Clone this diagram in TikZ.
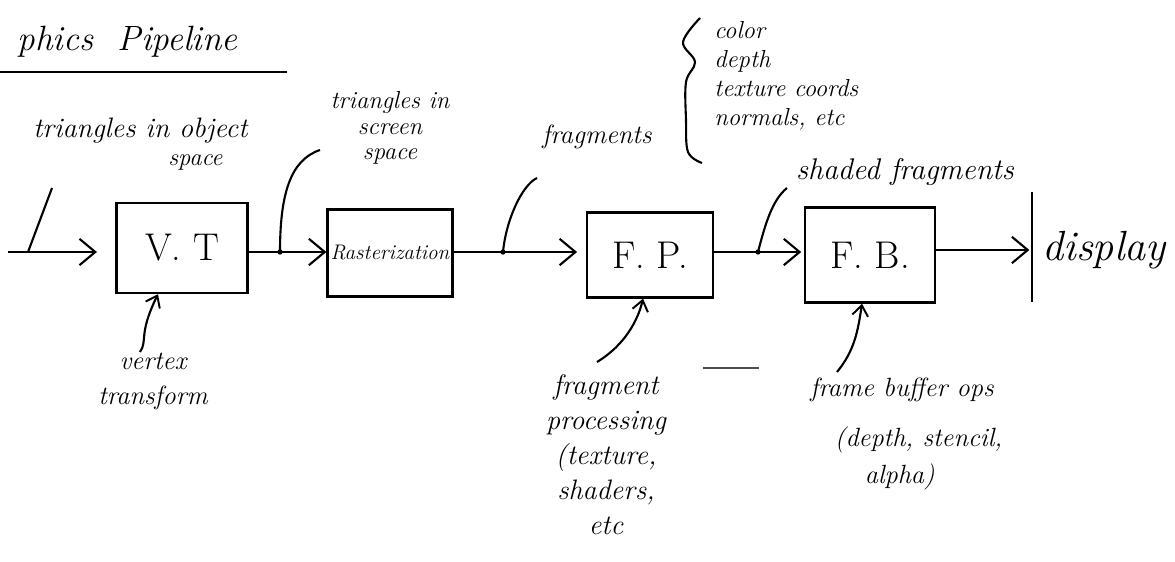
\documentclass[tikz,border=0pt]{standalone}
\usetikzlibrary{arrows.meta}
\begin{document}
\begin{tikzpicture}[x=0.02cm, y=-0.02cm,
  box/.style={draw, line width=1.3pt, inner sep=0pt},
  lbl/.style={font=\fontsize{15}{20}\selectfont\itshape, inner sep=0pt},
  wire/.style={line width=1.2pt},
  arr/.style={wire, -{Straight Barb[length=9pt,width=15pt,line width=1.2pt]}},
  uparr/.style={wire, -{Straight Barb[length=6pt,width=9pt,line width=1.1pt]}},
  dot/.style={circle, fill, inner sep=0pt, minimum size=3pt}
]
\useasboundingbox (0,0) rectangle (1175,561);

% title
\node[font=\fontsize{20}{24}\selectfont\itshape, anchor=base east, inner sep=0pt] (title) at (238,50) {phics\ \ Pipeline};
\coordinate (u0) at (0,72);
\coordinate (u1) at (287,72);
\draw[line width=1.1pt] (u0) -- (u1);

% boxes
\node[box, minimum width=2.62cm, minimum height=1.8cm] (vt) at (182,248) {\fontsize{22}{26}\selectfont V. T};
\node[box, minimum width=2.5cm, minimum height=1.74cm] (ras) at (390,253) {\fontsize{12}{14}\selectfont\itshape Rasterization};
\node[box, minimum width=2.52cm, minimum height=1.7cm] (fp) at (650,255) {\fontsize{22}{26}\selectfont F. P.};
\node[box, minimum width=2.6cm, minimum height=1.9cm] (fb) at (870,255) {\fontsize{22}{26}\selectfont F. B.};

% junctions
\coordinate (in) at (8,252);
\coordinate (j0) at (28,252);
\coordinate (t0) at (52,188);
\coordinate (d1) at (280,252);
\coordinate (d2) at (503,252);
\coordinate (d3) at (758,252);
\coordinate (bart) at (1032,192);
\coordinate (barb) at (1032,302);
\coordinate (barm) at (1032,250);

% main wires
\draw[arr, shorten >=10.5pt] (in) -- (in -| vt.west);
\draw[wire] (d1 -| vt.east) -- (d1);
\draw[arr] (d1) -- (d1 -| ras.west);
\draw[wire] (d2 -| ras.east) -- (d2);
\draw[arr, shorten >=5pt] (d2) -- (d2 -| fp.west);
\draw[wire] (d3 -| fp.east) -- (d3);
\draw[arr, shorten >=1.5pt] (d3) -- (d3 -| fb.west);
\draw[arr, shorten >=1.5pt] (barm -| fb.east) -- (barm);
\draw[line width=1.4pt] (bart) -- (barb);

\node[dot] (p1) at (d1) {};
\node[dot] (p2) at (d2) {};
\node[dot] (p3) at (d3) {};

% leaders to upper labels
\coordinate (l1) at (320,150);
\coordinate (l2) at (537,178);
\coordinate (l3) at (787,188);
\draw[wire] (j0) -- (t0);
\draw[wire] (d1) .. controls (280,195) and (290,160) .. (l1);
\draw[wire] (d2) .. controls (506,220) and (522,185) .. (l2);
\draw[wire] (d3) .. controls (765,225) and (772,200) .. (l3);

% upper labels
\node[lbl, font=\fontsize{16}{19}\selectfont\itshape, anchor=north west] (objl) at (33,118) {triangles in object};
\node[lbl, font=\fontsize{14}{16}\selectfont\itshape, anchor=base west] (objs) at (168,165) {space};
\node[lbl, align=center, font=\fontsize{14}{14.5}\selectfont\itshape] (scrl) at (390,128) {triangles in\\screen\\space};
\node[lbl] (fragl) at (597,137) {fragments};
\draw[wire] plot[smooth, tension=0.6] coordinates {(700,18) (683,42) (695,62) (686,82) (686,120) (688,152) (702,163)};
\node[lbl, align=left, anchor=north west, font=\fontsize{14}{16.5}\selectfont\itshape] (attrl) at (714,21) {color\\depth\\texture coords\\normals, etc};
\node[lbl, font=\fontsize{17}{20}\selectfont\itshape] (shadl) at (905,172) {shaded fragments};
\node[lbl, font=\fontsize{24}{28}\selectfont\itshape, anchor=west] (displ) at (1042,250) {display};

% lower arrows and labels
\coordinate (va) at (140,352);
\coordinate (fa) at (597,362);
\coordinate (ba) at (837,372);
\draw[uparr] (va) .. controls (148,340) and (138,335) .. ([xshift=-0.48cm]vt.south);
\draw[uparr] (fa) .. controls (625,345) and (638,320) .. ([xshift=-0.14cm]fp.south);
\draw[uparr] (ba) .. controls (855,350) and (858,330) .. ([xshift=-0.16cm]fb.south);

\node[lbl, align=center, anchor=north] (vtl) at (153,353) {vertex\\transform};
\node[lbl, align=center, anchor=north, font=\fontsize{16}{20}\selectfont\itshape] (fpl) at (606,374) {fragment\\processing\\(texture,\\shaders,\\etc};
\node[lbl, align=left, anchor=north west] (fbl) at (810,378) {frame buffer ops\\[8pt]\hspace*{14pt}(depth, stencil,\\[1pt]\hspace*{31pt}alpha)};

% stray stroke
\coordinate (s0) at (703,368);
\coordinate (s1) at (759,368);
\draw[line width=0.6pt, black!70] (s0) -- (s1);
\end{tikzpicture}
\end{document}
